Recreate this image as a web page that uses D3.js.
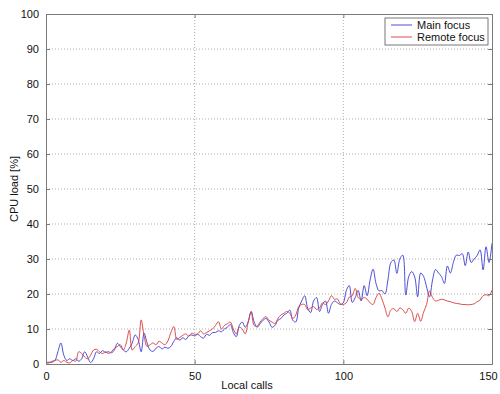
<!DOCTYPE html>
<html>
<head>
<meta charset="utf-8">
<script src="https://cdn.jsdelivr.net/npm/d3@7"></script>
<style>
  body { margin: 0; background: #fff; }
  svg text { font-family: "Liberation Sans", Arial, sans-serif; font-size: 11px; fill: #111; }
</style>
</head>
<body>
<svg id="chart" width="500" height="394"></svg>
<script>
const seriesNames = ['Main focus', 'Remote focus'];
const seriesColors = ['#3b3bd0', '#d83a3a'];

// CPU load per local call, x = 0..150
const mainFocus = [
  0.5, 0.5, 0.5, 1, 3.5, 6, 2.5, 1, 1.5, 1,
  1.5, 0.8, 1.5, 3.5, 2, 0.4, 1.5, 3.5, 3, 3.8,
  3.3, 3.5, 3.2, 4, 5.9, 5, 4, 3.5, 4.5, 6,
  8.3, 7, 3.5, 8.8, 6, 4, 3.6, 4.5, 5, 4.3,
  4.8, 4.5, 5, 6.5, 7.5, 6.8, 7.5, 7, 8, 8.3,
  8, 8.5, 7.8, 7.4, 8.5, 8.2, 9, 9, 9.5, 9.2,
  10, 10.5, 11.3, 9, 7.8, 11, 12, 10.5, 12, 15,
  12, 10.5, 11.5, 12.5, 13, 12, 10.5, 11, 12.5, 13,
  14, 14.5, 15.4, 12.5, 12, 16, 18, 19.5, 16, 14.7,
  18, 19, 15, 17, 18, 14.5, 17, 18, 17.5, 17,
  17.5, 21, 22.4, 17.6, 19, 21, 18, 22.4, 19.5, 24,
  27.1, 23, 20.9, 21, 20, 24, 29, 29.7, 25.9, 30,
  31.1, 19.7, 25, 26.4, 24.9, 19.2, 26, 25, 22, 19.2,
  24, 27, 26, 25, 23, 28, 26, 29, 31.1, 31,
  31.5, 28.1, 32, 29, 30, 31, 32.6, 26.9, 33.5, 29,
  34.5
];
const remoteFocus = [
  0.3, 0.3, 0.8, 1, 1.2, 0.5, 1, 0.5, 0.3, 1,
  0.8, 3.5, 3, 2, 1.5, 2.5, 4, 4.2, 3.5, 3,
  3.5, 3, 3.5, 4.5, 5, 5.5, 4, 6, 9.7, 4,
  5, 6, 12.6, 8, 5, 5.5, 6, 5.5, 6.5, 6,
  5.5, 6.6, 9, 10.7, 7, 7.6, 8.2, 8.6, 8, 8.8,
  8.5, 8.6, 9.5, 8.6, 9, 9.5, 10, 11, 12.1, 10,
  11, 11.5, 12, 10, 8.6, 10.5, 10, 8.6, 12, 15,
  11, 10.8, 12, 13, 13.5, 12.5, 12, 11.5, 13, 14,
  14.5, 15, 14.5, 13, 14, 16.4, 17, 17, 15.5, 16,
  16.4, 15.6, 16, 17.5, 17, 18, 19.5, 18.5, 18.6, 17.2,
  17, 17.5, 19.1, 19.5, 21.6, 19, 18.5, 19, 18.5, 17.5,
  17, 19, 20.2, 18.5, 16, 13.5, 15.5, 15.8, 15, 16,
  15.5, 14.5, 16, 15, 12.1, 14.5, 12.2, 14.8, 17, 20.9,
  19, 18, 18.2, 18.5, 18.3, 18, 17.8, 17.5, 17.3, 17.2,
  17, 17, 16.9, 17, 17.2, 17.8, 18.3, 19.5, 19.8, 19.5,
  21.1
];
const xTicks = [0, 50, 100, 150];
const yTicks = [0, 10, 20, 30, 40, 50, 60, 70, 80, 90, 100];

const svg = d3.select('#chart');
const margin = { top: 14, left: 46, right: 8, bottom: 30 };
const width = 500 - margin.left - margin.right,
    height = 394 - margin.top - margin.bottom;

const x = d3.scaleLinear().domain([0, 150]).range([0, width]);
const y = d3.scaleLinear().domain([0, 100]).range([height, 0]);

const view = svg.append('g').attr('transform', `translate(${margin.left},${margin.top})`);

// grid
view.append('g').selectAll('line').data(yTicks.slice(1, -1)).enter().append('line')
    .attr('x1', 0).attr('x2', width)
    .attr('y1', d => y(d)).attr('y2', d => y(d))
    .style('stroke', '#9a9a9a').style('stroke-width', 0.8).style('stroke-dasharray', '1,2');
view.append('g').selectAll('line').data(xTicks.slice(1, -1)).enter().append('line')
    .attr('y1', 0).attr('y2', height)
    .attr('x1', d => x(d)).attr('x2', d => x(d))
    .style('stroke', '#9a9a9a').style('stroke-width', 0.8).style('stroke-dasharray', '1,2');

// lines
const line = d3.line()
    .x((d, i) => x(i))
    .y(d => y(d))
    .curve(d3.curveCatmullRom.alpha(0.5));
[mainFocus, remoteFocus].forEach((s, k) => {
    view.append('path').datum(s)
        .attr('d', line)
        .style('fill', 'none')
        .style('stroke', seriesColors[k])
        .style('stroke-width', 0.9);
});

// axes (box with inward ticks)
const tickLen = 4;
const axisColor = '#7a7a7a';
const xb = view.append('g').attr('transform', `translate(0,${height})`)
    .call(d3.axisBottom(x).tickValues(xTicks).tickSize(-tickLen).tickPadding(8));
const xt = view.append('g')
    .call(d3.axisTop(x).tickValues(xTicks).tickSize(-tickLen).tickFormat(''));
const yl = view.append('g')
    .call(d3.axisLeft(y).tickValues(yTicks).tickSize(-tickLen).tickPadding(7));
const yr = view.append('g').attr('transform', `translate(${width},0)`)
    .call(d3.axisRight(y).tickValues(yTicks).tickSize(-tickLen).tickFormat(''));
[xb, xt, yl, yr].forEach(g => {
    g.select('.domain').style('stroke', axisColor);
    g.selectAll('.tick line').style('stroke', axisColor);
    g.selectAll('.tick text').style('font-size', '11px').style('fill', '#111')
        .style('font-family', '"Liberation Sans", Arial, sans-serif');
});
// keep the last x label inside the window
xb.selectAll('.tick text').filter(d => d === 150).attr('dx', -4);

// axis titles
svg.append('text')
    .attr('transform', `translate(${margin.left + width / 2 - 22},${389})`)
    .style('text-anchor', 'middle')
    .text('Local calls');
svg.append('text')
    .attr('transform', `translate(18,${margin.top + height / 2}) rotate(-90)`)
    .style('text-anchor', 'middle')
    .text('CPU load [%]');

// legend
const legend = svg.append('g').attr('transform', 'translate(385,18)');
legend.append('rect')
    .attr('width', 103).attr('height', 27)
    .style('fill', '#fff').style('stroke', '#555').style('stroke-width', 0.8);
const items = legend.selectAll('g.item').data(seriesNames).enter().append('g')
    .attr('class', 'item')
    .attr('transform', (d, i) => `translate(0,${7 + i * 12})`);
items.append('line')
    .attr('x1', 6).attr('x2', 27).attr('y1', 0).attr('y2', 0)
    .style('stroke', (d, i) => seriesColors[i]).style('stroke-width', 0.9);
items.append('text')
    .attr('x', 32).attr('y', 4)
    .text(d => d);
</script>
</body>
</html>
